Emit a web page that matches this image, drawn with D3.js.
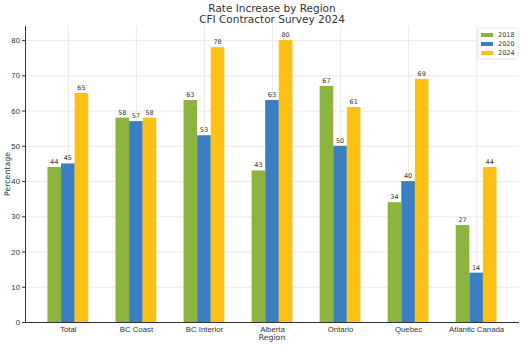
<!DOCTYPE html>
<meta charset="utf-8">
<style>
    body { margin: 0; background: #fff; }
    svg { font-family: "DejaVu Sans", sans-serif; }
    .grid line { stroke: #e6e6e6; stroke-width: 0.8; }
    .grid .domain { display: none; }
    .axis text { font-size: 7.8px; fill: #333; }
    .axis line, .axis path { stroke: #333; }
</style>
<body>
<svg width="523" height="346"></svg>
<script src="https://cdn.jsdelivr.net/npm/d3@7"></script>
<script>

    var regions = ["Total", "BC Coast", "BC Interior", "Alberta", "Ontario", "Quebec", "Atlantic Canada"];
    var years = ["2018", "2020", "2024"];
    var rate2018 = [44, 58, 63, 43, 67, 34, 27.5];
    var rate2020 = [45, 57, 53, 63, 50, 40, 14];
    var rate2024 = [65, 58, 78, 80, 61, 69, 44];
    var yTicks = [0, 10, 20, 30, 40, 50, 60, 70, 80];
    var colors = ["#8cb43f", "#3b7fc2", "#fdc014"];

    var series = [rate2018, rate2020, rate2024];

    var svg = d3.select("svg"),
        plotLeft = 25, plotRight = 519, plotTop = 26, plotBottom = 322;

    var x = d3.scaleLinear()
        .domain([-0.63, regions.length - 1 + 0.63])
        .range([plotLeft, plotRight]);

    var y = d3.scaleLinear()
        .domain([0, 84])
        .range([plotBottom, plotTop]);

    // grid lines
    svg.append("g")
        .attr("class", "grid")
        .attr("transform", "translate(0," + plotBottom + ")")
        .call(d3.axisBottom(x).tickValues(d3.range(regions.length)).tickSize(-(plotBottom - plotTop)).tickFormat(""));

    svg.append("g")
        .attr("class", "grid")
        .attr("transform", "translate(" + plotLeft + ",0)")
        .call(d3.axisLeft(y).tickValues(yTicks).tickSize(-(plotRight - plotLeft)).tickFormat(""));

    var barW = 0.2;

    series.forEach(function (vals, s) {
        var off = (s - 1) * barW;
        svg.append("g")
            .selectAll("rect")
            .data(vals)
            .enter().append("rect")
            .attr("x", function (d, i) { return x(i + off - barW / 2); })
            .attr("width", x(barW) - x(0))
            .attr("y", function (d) { return y(d); })
            .attr("height", function (d) { return y(0) - y(d); })
            .attr("fill", colors[s]);

        svg.append("g")
            .selectAll("text")
            .data(vals)
            .enter().append("text")
            .attr("x", function (d, i) { return x(i + off); })
            .attr("y", function (d) { return y(d) - 3; })
            .attr("text-anchor", "middle")
            .style("font-size", "6.5px")
            .style("fill", "#333")
            .text(function (d) { return Math.trunc(d); });
    });

    // axes
    svg.append("g")
        .attr("class", "axis")
        .attr("transform", "translate(0," + plotBottom + ")")
        .call(d3.axisBottom(x).tickValues(d3.range(regions.length)).tickSize(0).tickPadding(4)
            .tickFormat(function (d) { return regions[d]; }))
        .select(".domain").attr("d", "M" + plotLeft + ",0.5H" + plotRight);

    svg.append("g")
        .attr("class", "axis")
        .attr("transform", "translate(" + plotLeft + ",0)")
        .call(d3.axisLeft(y).tickValues(yTicks).tickSize(3).tickPadding(2))
        .select(".domain").attr("d", "M0.5," + plotTop + "V" + plotBottom);

    svg.append("text")
        .attr("x", (plotLeft + plotRight) / 2)
        .attr("y", 340)
        .attr("text-anchor", "middle")
        .style("font-size", "7.8px")
        .style("fill", "#333")
        .text("Region");

    svg.append("text")
        .attr("transform", "translate(10," + ((plotTop + plotBottom) / 2) + ") rotate(-90)")
        .attr("text-anchor", "middle")
        .style("font-size", "7.8px")
        .style("fill", "#333")
        .text("Percentage");

    svg.append("text")
        .attr("x", (plotLeft + plotRight) / 2)
        .attr("y", 12)
        .attr("text-anchor", "middle")
        .style("font-size", "10.5px")
        .style("fill", "#333")
        .text("Rate Increase by Region");

    svg.append("text")
        .attr("x", (plotLeft + plotRight) / 2)
        .attr("y", 23)
        .attr("text-anchor", "middle")
        .style("font-size", "10.5px")
        .style("fill", "#333")
        .text("CFI Contractor Survey 2024");

    // legend
    var lg = svg.append("g").attr("transform", "translate(478,28)");
    lg.append("rect")
        .attr("width", 40).attr("height", 31)
        .attr("fill", "#fff").attr("stroke", "#ddd").attr("stroke-width", 0.8).attr("rx", 1.5);
    var item = lg.selectAll(".item")
        .data(years)
        .enter().append("g")
        .attr("transform", function (d, i) { return "translate(3," + (5 + i * 9) + ")"; });
    item.append("rect")
        .attr("width", 12).attr("height", 4)
        .attr("fill", function (d, i) { return colors[i]; });
    item.append("text")
        .attr("x", 17).attr("y", 4)
        .style("font-size", "6.5px")
        .style("fill", "#333")
        .text(function (d) { return d; });

</script>
</body>
